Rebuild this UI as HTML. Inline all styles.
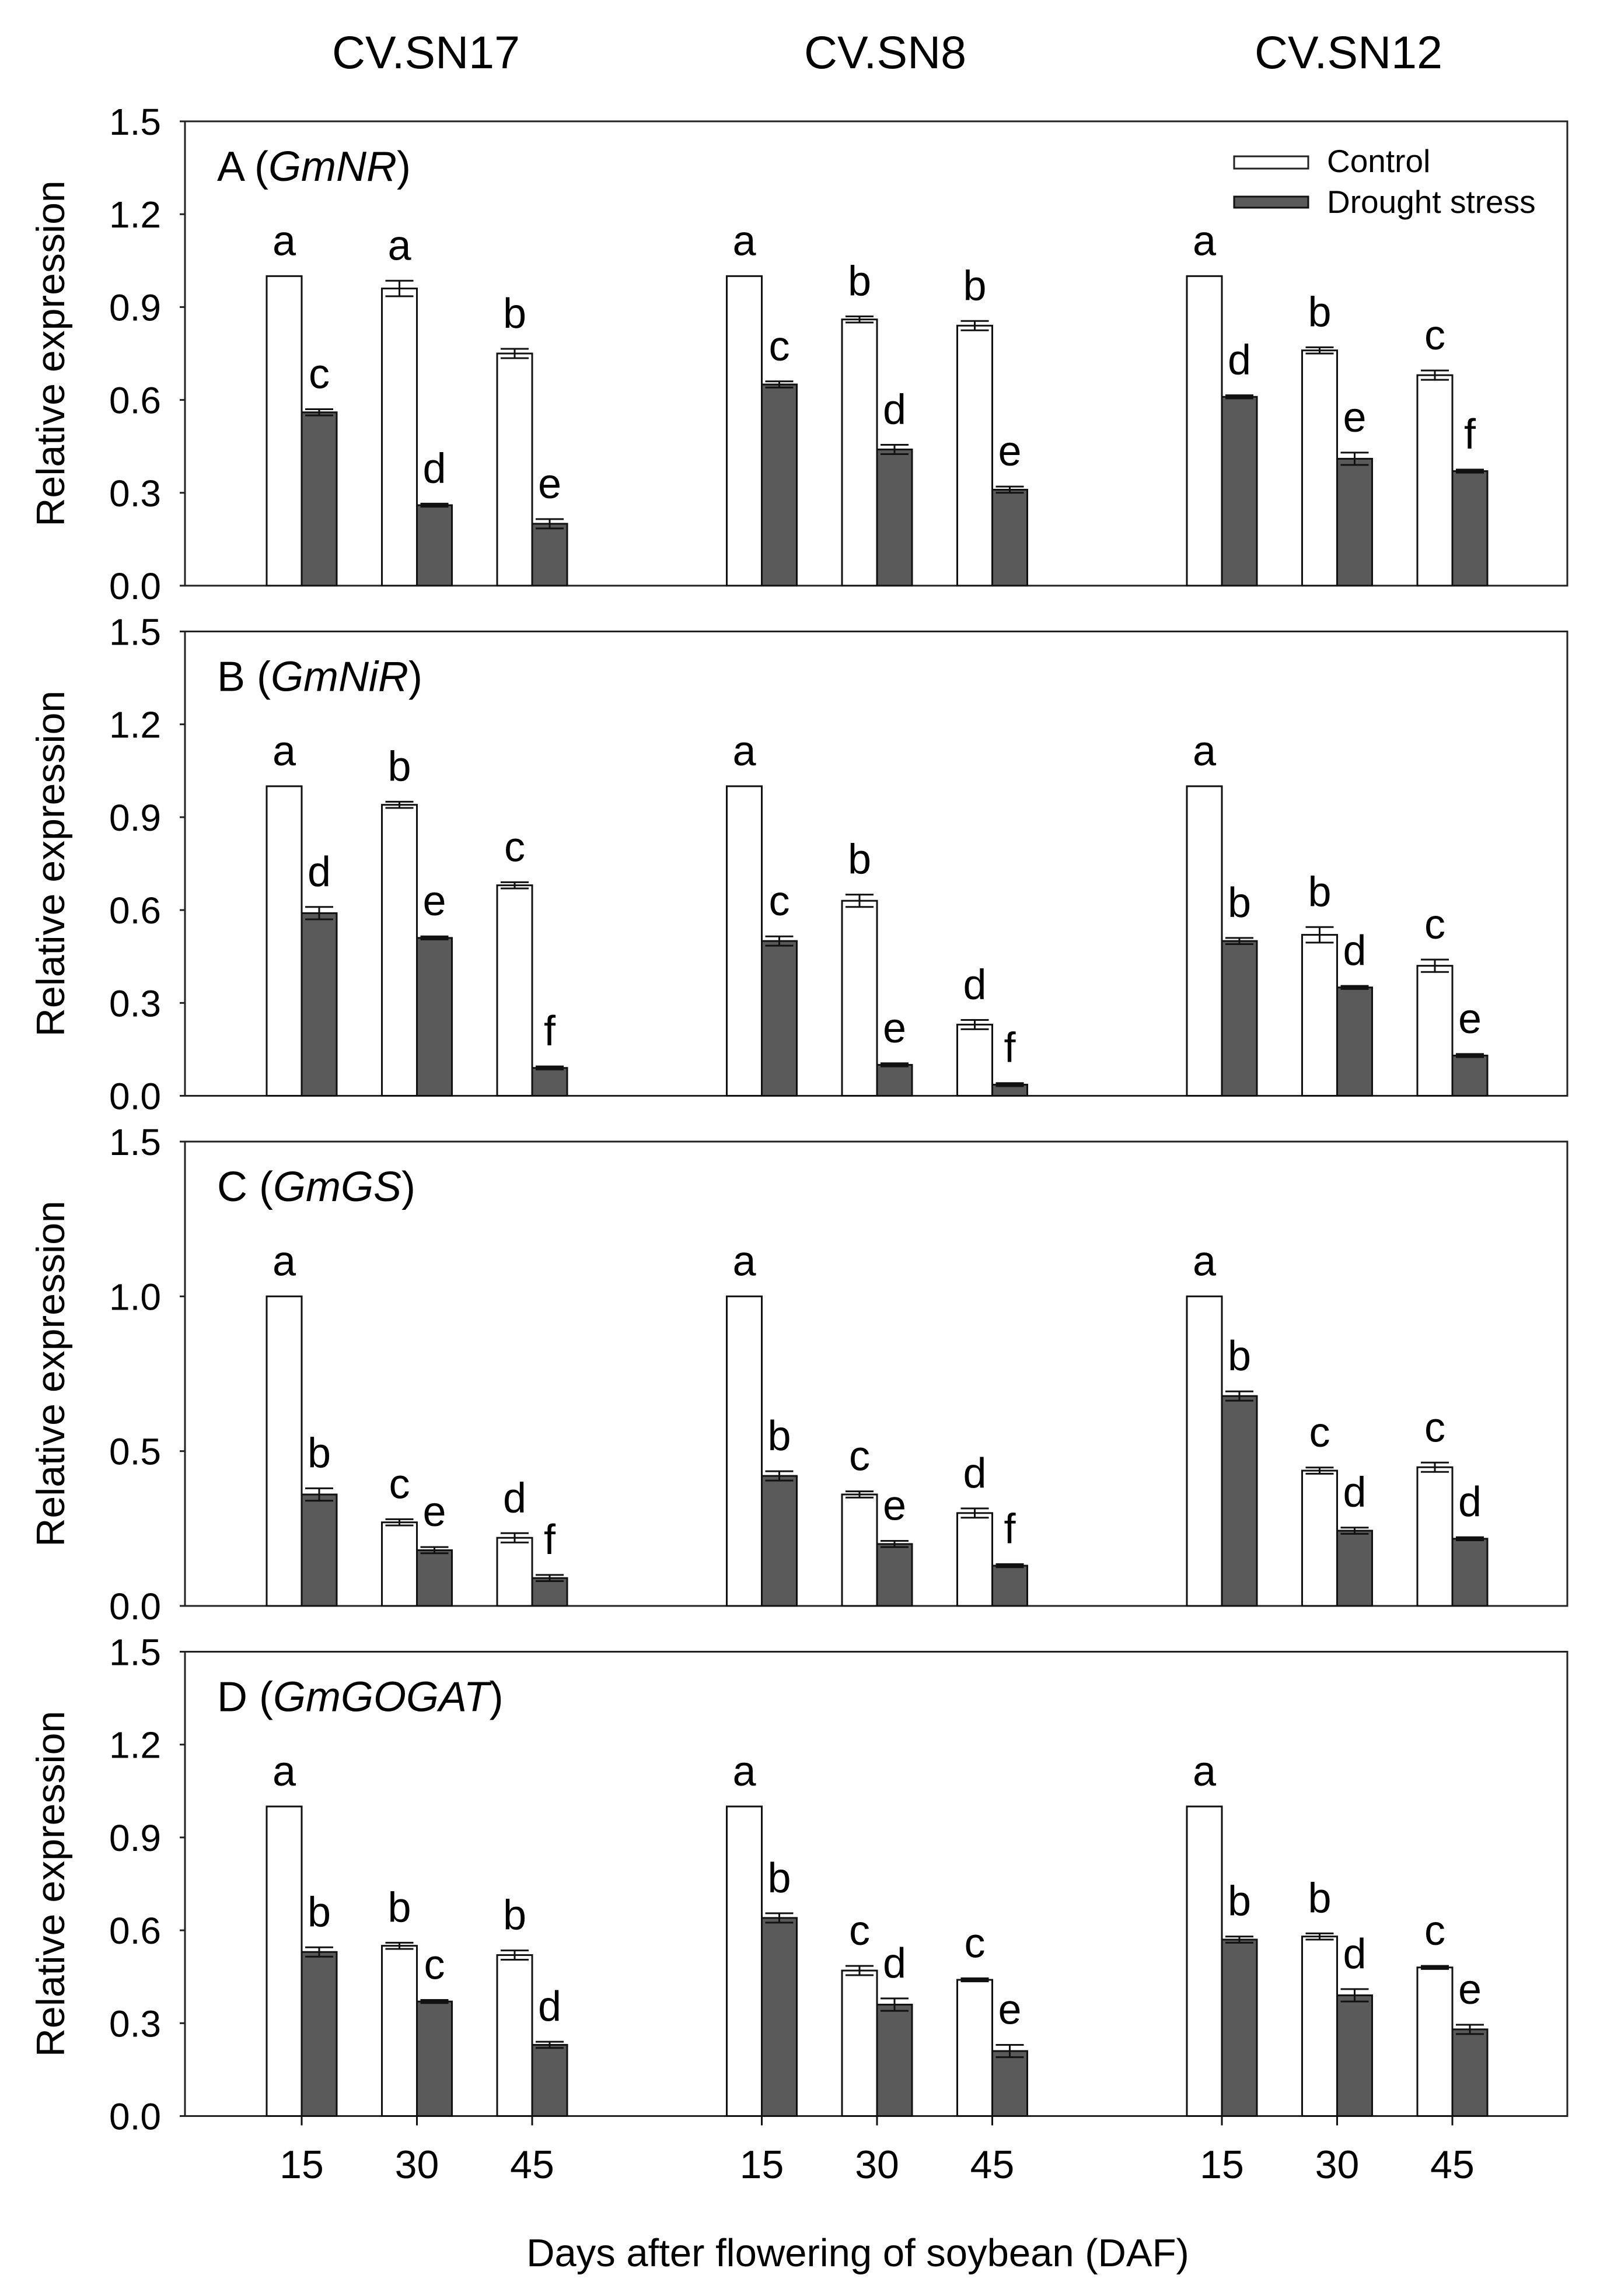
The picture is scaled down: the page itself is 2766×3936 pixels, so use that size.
<!DOCTYPE html>
<html><head><meta charset="utf-8"><style>
html,body{margin:0;padding:0;background:#fff;}
svg{display:block;font-family:"Liberation Sans",Arial,sans-serif;}
</style></head><body>
<svg id="chart" width="2766" height="3936" viewBox="0 0 2766 3936" xmlns="http://www.w3.org/2000/svg">
<rect x="0" y="0" width="2766" height="3936" fill="#fff"/>
<text x="730" y="117" font-size="79" text-anchor="middle">CV.SN17</text>
<text x="1517" y="117" font-size="79" text-anchor="middle">CV.SN8</text>
<text x="2311" y="117" font-size="79" text-anchor="middle">CV.SN12</text>
<g>
<rect x="2115" y="268" width="127" height="21" fill="#fff" stroke="#222" stroke-width="3"/>
<text x="2274" y="295" font-size="55">Control</text>
<rect x="2115" y="337" width="127" height="19" fill="#5a5a5a" stroke="#111" stroke-width="3"/>
<text x="2274" y="365" font-size="55">Drought stress</text>
</g>
<text x="1470" y="3885" font-size="67" text-anchor="middle">Days after flowering of soybean (DAF)</text>
</svg>
<script>
// Data
const days = ["15","30","45"];
const cultivars = ["SN17","SN8","SN12"];
const panelLetters = ["A","B","C","D"];
const panelGenes = ["GmNR","GmNiR","GmGS","GmGOGAT"];
const controlA = [1.0,0.96,0.75, 1.0,0.86,0.84, 1.0,0.76,0.68];
const droughtA = [0.56,0.26,0.20, 0.65,0.44,0.31, 0.61,0.41,0.37];
const controlErrA = [0,0.025,0.015, 0,0.01,0.015, 0,0.01,0.015];
const droughtErrA = [0.01,0.005,0.015, 0.01,0.015,0.01, 0.005,0.02,0.005];
const controlLabA = ["a","a","b","a","b","b","a","b","c"];
const droughtLabA = ["c","d","e","c","d","e","d","e","f"];

const controlB = [1.0,0.94,0.68, 1.0,0.63,0.23, 1.0,0.52,0.42];
const droughtB = [0.59,0.51,0.09, 0.50,0.10,0.036, 0.50,0.35,0.13];
const controlErrB = [0,0.01,0.01, 0,0.02,0.015, 0,0.025,0.02];
const droughtErrB = [0.02,0.005,0.005, 0.015,0.005,0.005, 0.01,0.005,0.005];
const controlLabB = ["a","b","c","a","b","d","a","b","c"];
const droughtLabB = ["d","e","f","c","e","f","b","d","e"];

const controlC = [1.0,0.27,0.22, 1.0,0.36,0.30, 1.0,0.437,0.448];
const droughtC = [0.36,0.18,0.09, 0.42,0.20,0.13, 0.678,0.243,0.217];
const controlErrC = [0,0.01,0.015, 0,0.01,0.015, 0,0.01,0.015];
const droughtErrC = [0.02,0.01,0.01, 0.015,0.01,0.005, 0.015,0.01,0.005];
const controlLabC = ["a","c","d","a","c","d","a","c","c"];
const droughtLabC = ["b","e","f","b","e","f","b","d","d"];

const controlD = [1.0,0.55,0.52, 1.0,0.47,0.44, 1.0,0.58,0.48];
const droughtD = [0.53,0.37,0.23, 0.64,0.36,0.21, 0.57,0.39,0.28];
const controlErrD = [0,0.01,0.015, 0,0.015,0.005, 0,0.01,0.005];
const droughtErrD = [0.015,0.005,0.01, 0.015,0.02,0.02, 0.01,0.02,0.015];
const controlLabD = ["a","b","b","a","c","c","a","b","c"];
const droughtLabD = ["b","c","d","b","d","e","b","d","e"];

const ticksABD = ["0.0","0.3","0.6","0.9","1.2","1.5"];
const ticksC = ["0.0","0.5","1.0","1.5"];

const panels = [
 {c:controlA,d:droughtA,ce:controlErrA,de:droughtErrA,cl:controlLabA,dl:droughtLabA,t:ticksABD},
 {c:controlB,d:droughtB,ce:controlErrB,de:droughtErrB,cl:controlLabB,dl:droughtLabB,t:ticksABD},
 {c:controlC,d:droughtC,ce:controlErrC,de:droughtErrC,cl:controlLabC,dl:droughtLabC,t:ticksC},
 {c:controlD,d:droughtD,ce:controlErrD,de:droughtErrD,cl:controlLabD,dl:droughtLabD,t:ticksABD}
];

const NS="http://www.w3.org/2000/svg";
const svg=document.getElementById('chart');
const L=317, R=2686, PH=796, YMAX=1.5, BW=60;
const panelTop=i=>208+i*874.5;
function xTick(g,k){return 517+g*788.5+k*197.5;}
function mk(tag,attrs,parent){const e=document.createElementNS(NS,tag);for(const k in attrs)e.setAttribute(k,attrs[k]);(parent||svg).appendChild(e);return e;}

panels.forEach((p,pi)=>{
  const top=panelTop(pi), bot=top+PH;
  const y=v=>bot-v/YMAX*PH;
  const g=mk('g',{});
  
  
  const frame=mk('rect',{x:L,y:top,width:R-L,height:PH,fill:'none',stroke:'#222','stroke-width':3},g);
  
  
  p.t.forEach(t=>{
    const v=parseFloat(t), yy=y(v);
    const tk=mk('line',{x1:L-9,x2:L,y1:yy,y2:yy,stroke:'#222','stroke-width':3},g);
    
    
    const tl=mk('text',{x:276,y:yy+23,'font-size':64,'text-anchor':'end'},g);
    tl.textContent=t;
    
    
  });
  const yt=mk('text',{x:0,y:0,'font-size':68,'text-anchor':'middle',transform:'translate(110,'+(top+PH/2)+') rotate(-90)'},g);
  yt.textContent='Relative expression';
  
  
  const pl=mk('text',{x:372,y:top+102,'font-size':72},g);
  
  
  const s1=mk('tspan',{},pl); s1.textContent=panelLetters[pi]+' (';
  const s2=mk('tspan',{'font-style':'italic'},pl); s2.textContent=panelGenes[pi];
  const s3=mk('tspan',{},pl); s3.textContent=')';
  for(let gi=0;gi<3;gi++){for(let k=0;k<3;k++){
    const idx=gi*3+k, cx=xTick(gi,k);
    [[p.c,p.ce,p.cl,cx-BW,'#fff','control'],[p.d,p.de,p.dl,cx,'#5a5a5a','drought']].forEach(([vals,errs,labs,x0,fill,nm])=>{
      const v=vals[idx], e=errs[idx], yt=y(v);
      const b=mk('rect',{x:x0,y:yt,width:BW,height:bot-yt,fill:fill,stroke:'#111','stroke-width':3},g);
      
      
      const bc=x0+BW/2;
      if(e>0){
        const eb=mk('path',{d:'M'+(bc-24)+' '+y(v+e)+'H'+(bc+24)+'M'+bc+' '+y(v+e)+'V'+y(v-e)+'M'+(bc-24)+' '+y(v-e)+'H'+(bc+24),stroke:'#111','stroke-width':3,fill:'none'},g);
        
        
      }
      const lt=mk('text',{x:bc,y:y(v+e)-36,'font-size':72,'text-anchor':'middle'},g);
      lt.textContent=labs[idx];
      
      
    });
  }}
  if(pi===3){
    for(let gi=0;gi<3;gi++){for(let k=0;k<3;k++){
      const cx=xTick(gi,k);
      const xt=mk('line',{x1:cx,x2:cx,y1:bot,y2:bot+16,stroke:'#111','stroke-width':3},g);
      
      
      const xl=mk('text',{x:cx,y:3734,'font-size':68,'text-anchor':'middle'},g);
      xl.textContent=days[k];
      
      
    }}
  }
});
</script>
</body></html>
